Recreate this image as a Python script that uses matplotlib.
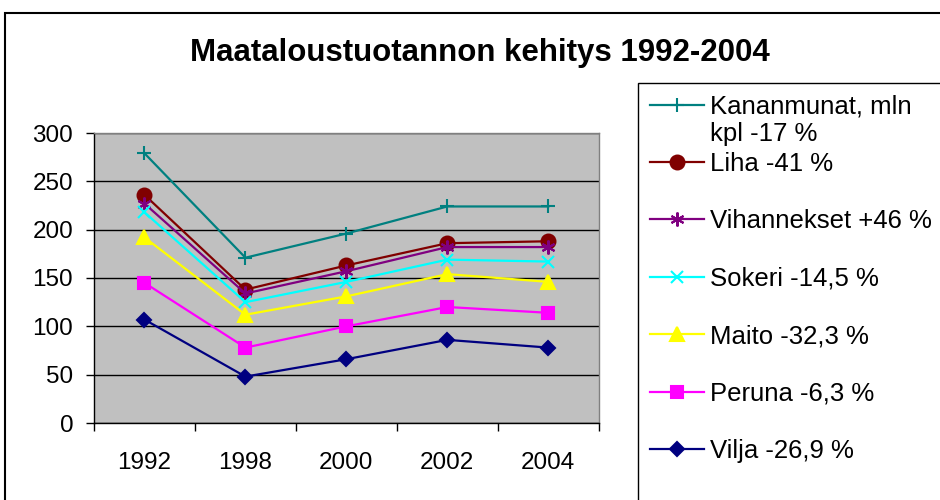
import numpy as np
import matplotlib.pyplot as plt
from matplotlib.patches import Rectangle

plt.rcParams['font.family'] = ['Liberation Sans', 'DejaVu Sans']

years = ['1992', '1998', '2000', '2002', '2004']

# values
kananmunat = [279, 171, 196, 224, 224]
liha = [236, 138, 163, 186, 188]
vihannekset = [227, 134, 157, 182, 182]
sokeri = [218, 125, 146, 169, 167]
maito = [192, 112, 131, 154, 146]
peruna = [145, 78, 100, 120, 114]
vilja = [107, 48, 66, 86, 78]

labels = ['Kananmunat, mln', 'Liha -41 %', 'Vihannekset +46 %', 'Sokeri -14,5 %',
          'Maito -32,3 %', 'Peruna -6,3 %', 'Vilja -26,9 %']
extra_line = 'kpl -17 %'

series = [kananmunat, liha, vihannekset, sokeri, maito, peruna, vilja]
colors = ['#008080', '#800000', '#800080', '#00FFFF', '#FFFF00', '#FF00FF', '#000080']
markers = ['+', 'o', (6, 2, 0), 'x', '^', 's', 'D']
msizes = [10, 10, 10, 9, 10, 9, 7]

fig = plt.figure(figsize=(9.4, 5), dpi=100)
ax = fig.add_axes([0.1, 0.154, 0.537, 0.58])
ax.set_facecolor('#C0C0C0')

x = np.arange(len(years))
handles = []
for vals, c, m, ms, lab in zip(series, colors, markers, msizes, labels):
    h, = ax.plot(x, vals, color=c, marker=m, markersize=ms, linewidth=1.6,
                 markeredgewidth=1.5, markerfacecolor=c, markeredgecolor=c, label=lab)
    handles.append(h)

ax.set_xlim(-0.5, 4.5)
ax.set_ylim(0, 300)
ax.set_yticks(np.arange(0, 301, 50))
ax.yaxis.grid(True, color='black', linewidth=1)
ax.set_axisbelow(True)
ax.set_xticks(x)
ax.set_xticklabels(years)
ax.set_xticks(np.arange(-0.5, 5, 1), minor=True)
ax.tick_params(axis='x', which='major', length=0, pad=21, labelsize=17.5)
ax.tick_params(axis='x', which='minor', length=6, width=1, direction='out')
ax.tick_params(axis='y', length=5.5, width=1, pad=9.5, labelsize=17.5)
ax.spines['left'].set_color('black')
ax.spines['bottom'].set_color('black')
ax.spines['top'].set_color('#808080')
ax.spines['right'].set_color('#808080')
for s in ax.spines.values():
    s.set_linewidth(1)

fig.text(0.51, 0.895, 'Maataloustuotannon kehitys 1992-2004',
         ha='center', va='center', fontsize=22.5, fontweight='bold')

leg = fig.legend(handles=handles, loc='upper left', bbox_to_anchor=(638 / 940, 1 - 83 / 500),
                 fontsize=18.5, frameon=False, handlelength=2.1, handletextpad=0.25,
                 labelspacing=1.3, borderpad=0.45, borderaxespad=0)

# outer chart border
fig.patches.append(Rectangle((5 / 940, -0.1), 1.2, 1.1 - 13 / 500,
                             transform=fig.transFigure, fill=False,
                             edgecolor='black', linewidth=1.5, clip_on=False))

fig.canvas.draw()
# legend box runs past the right and bottom edges, as in the original
lb = fig.transFigure.inverted().transform(leg.get_window_extent())
fig.patches.append(Rectangle((lb[0][0], -0.1), 1.0, lb[1][1] + 0.1,
                             transform=fig.transFigure, fill=False,
                             edgecolor='black', linewidth=1, clip_on=False))

# second line of the first legend label, placed under the first line
bb = leg.get_texts()[0].get_window_extent()
x0, y0 = fig.transFigure.inverted().transform((bb.x0, bb.y0))
fig.text(x0, y0 - 0.006, extra_line, ha='left', va='top', fontsize=18.5, zorder=10)

fig.savefig('out.png', dpi=100)
